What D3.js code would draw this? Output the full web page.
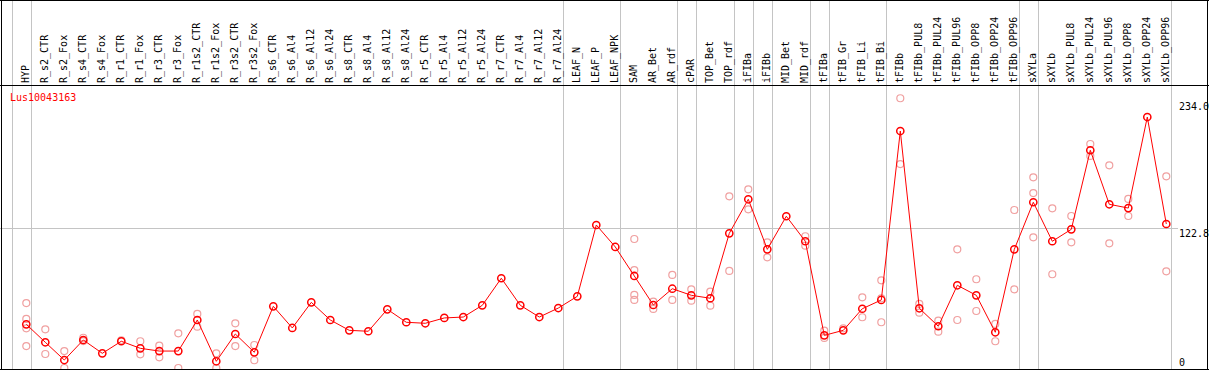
<!DOCTYPE html>
<html>
<head>
<meta charset="utf-8">
<script src="https://cdn.jsdelivr.net/npm/d3@7"></script>
<style>
  body { margin: 0; background: #fff; }
  svg { display: block; }
  text { font-family: "DejaVu Sans Mono", monospace; font-size: 10px; }
</style>
</head>
<body>
<div id="chart"></div>
<script>
var geneName = "Lus10043163";

var categories = ["HYP", "R_s2_CTR", "R_s2_Fox", "R_s4_CTR", "R_s4_Fox", "R_r1_CTR", "R_r1_Fox",
  "R_r3_CTR", "R_r3_Fox", "R_r1s2_CTR", "R_r1s2_Fox", "R_r3s2_CTR", "R_r3s2_Fox",
  "R_s6_CTR", "R_s6_Al4", "R_s6_Al12", "R_s6_Al24", "R_s8_CTR", "R_s8_Al4", "R_s8_Al12", "R_s8_Al24",
  "R_r5_CTR", "R_r5_Al4", "R_r5_Al12", "R_r5_Al24", "R_r7_CTR", "R_r7_Al4", "R_r7_Al12", "R_r7_Al24",
  "LEAF_N", "LEAF_P", "LEAF_NPK", "SAM", "AR_Bet", "AR_rdf", "cPAR", "TOP_Bet", "TOP_rdf",
  "iFIBa", "iFIBb", "MID_Bet", "MID_rdf", "tFIBa", "tFIB_Gr", "tFIB_Li", "tFIB_Bi",
  "tFIBb", "tFIBb_PUL8", "tFIBb_PUL24", "tFIBb_PUL96", "tFIBb_OPP8", "tFIBb_OPP24", "tFIBb_OPP96",
  "sXYLa", "sXYLb", "sXYLb_PUL8", "sXYLb_PUL24", "sXYLb_PUL96", "sXYLb_OPP8", "sXYLb_OPP24", "sXYLb_OPP96"];

// mean expression per sample
var means = [38.4, 22.6, 7.0, 24.6, 12.9, 23.5, 17.3, 14.9, 14.9, 42.2, 5.9, 29.9, 13.8,
  54.2, 35.2, 57.7, 42.2, 33.1, 32.3, 51.6, 40.2, 39.3, 44.0, 44.8, 55.1, 78.9, 55.1, 44.8, 52.7,
  63.0, 125.7, 106.4, 80.9, 55.4, 69.7, 63.9, 61.3, 118.4, 148.3, 104.3, 133.4, 111.4,
  28.7, 33.1, 52.1, 59.8, 208.3, 52.5, 36.7, 72.7, 63.9, 31.4, 104.3,
  145.7, 111.4, 121.9, 191.4, 143.9, 140.6, 220.6, 126.6];

// individual replicates per sample
var replicates = [[57.1, 43.1, 34.9, 19.3], [34.0, 12.3], [14.9, 0], [26.6, 23.7], [], [24.3],
  [23.5, 12.0], [19.6, 9.4], [30.5, 0], [47.5, 36.3], [12.9, 0], [39.3, 19.3], [20.2, 6.8],
  [], [], [], [], [], [], [], [], [], [], [], [], [], [], [], [],
  [], [], [], [113.4, 86.1, 64.2, 59.8], [58.3, 51.9], [81.8, 59.8], [69.2, 59.2], [67.1, 54.8],
  [150.9, 85.3], [157.1, 139.5], [110.5, 97.3], [], [115.8, 107.5],
  [32.8, 26.4], [34.9], [62.1, 44.6], [77.1, 61.3, 40.2], [237.1, 179.3],
  [56.3, 48.6], [41.6, 31.9], [104.3, 42.2], [78.0, 50.1], [38.7, 23.5], [138.9, 69.2],
  [167.6, 153.8, 114.9], [140.4, 82.4], [133.6, 110.5], [196.9, 186.4], [178.2, 109.6],
  [148.6, 133.6], [], [168.5, 85.0]];

// a grey separator follows each of these samples
var groupEnds = ["HYP", "R_r7_Al24", "LEAF_NPK", "AR_rdf", "cPAR", "TOP_rdf", "iFIBa", "iFIBb",
  "MID_rdf", "tFIBa", "tFIB_Bi", "tFIBb_OPP96", "sXYLa", "sXYLb_OPP96"];

var yTicks = [0, 122.8, 234.0];
var yTickLabels = ["0", "122.8", "234.0"];

var width = 1209, height = 370,
  headerBottom = 85.5, plotBottom = 369, labelX = 1179;

var x = d3.scalePoint().domain(categories).range([26.3, 1166.3]);
var step = x.step();
var y = d3.scaleLinear().domain([0, 234]).range([368, 101.8]);

var svg = d3.select("#chart").append("svg")
  .attr("width", width).attr("height", height);

svg.append("defs").append("clipPath").attr("id", "clip")
  .append("rect").attr("x", 2).attr("y", headerBottom)
  .attr("width", 1205).attr("height", plotBottom - headerBottom);

var grid = svg.append("g").attr("shape-rendering", "crispEdges");

// group separators
var sepX = [x(categories[0]) - step + 4.4].concat(groupEnds.map(function(c) { return x(c) + 4.4; }));
grid.selectAll("line.sep").data(sepX).enter().append("line")
  .attr("class", "sep")
  .attr("x1", function(d) { return Math.round(d) + 0.5; })
  .attr("x2", function(d) { return Math.round(d) + 0.5; })
  .attr("y1", 0).attr("y2", plotBottom)
  .attr("stroke", "#c4c4c4").attr("stroke-width", 1);

// middle gridline
grid.append("line")
  .attr("x1", 0).attr("x2", labelX - 1)
  .attr("y1", Math.round(y(yTicks[1])) + 0.5).attr("y2", Math.round(y(yTicks[1])) + 0.5)
  .attr("stroke", "#c4c4c4");

// frame
grid.append("line").attr("x1", 0).attr("x2", width).attr("y1", 0.5).attr("y2", 0.5).attr("stroke", "#000");
grid.append("line").attr("x1", 0).attr("x2", width).attr("y1", headerBottom).attr("y2", headerBottom).attr("stroke", "#000");
grid.append("line").attr("x1", 0).attr("x2", width).attr("y1", plotBottom + 0.5).attr("y2", plotBottom + 0.5).attr("stroke", "#000");
grid.append("line").attr("x1", 1.5).attr("x2", 1.5).attr("y1", 0).attr("y2", height).attr("stroke", "#000");
grid.append("line").attr("x1", 1207.5).attr("x2", 1207.5).attr("y1", 0).attr("y2", height).attr("stroke", "#000");

// sample labels
svg.append("g").selectAll("text").data(categories).enter().append("text")
  .attr("transform", function(d) { return "translate(" + (x(d) + 3) + ",83) rotate(-90)"; })
  .attr("text-anchor", "start")
  .text(function(d) { return d; });

// gene name
svg.append("text").attr("x", 10).attr("y", 101).attr("fill", "#ff0000").text(geneName);

// y labels on the right
svg.append("g").selectAll("text").data(yTicks).enter().append("text")
  .attr("x", labelX)
  .attr("y", function(d) { return Math.min(y(d) + 8.5, 366); })
  .attr("fill", "#000")
  .text(function(d, i) { return yTickLabels[i]; });

var plot = svg.append("g").attr("clip-path", "url(#clip)");

var reps = [];
categories.forEach(function(c, i) {
  replicates[i].forEach(function(v) { reps.push({ cat: c, value: v }); });
});

plot.selectAll("circle.rep").data(reps).enter().append("circle")
  .attr("class", "rep")
  .attr("cx", function(d) { return x(d.cat); })
  .attr("cy", function(d) { return y(d.value); })
  .attr("r", 3.5)
  .attr("fill", "none").attr("stroke", "#f0a0a0").attr("stroke-width", 1.2);

var line = d3.line()
  .x(function(d, i) { return x(categories[i]); })
  .y(function(d) { return y(d); });

plot.append("path").datum(means)
  .attr("d", line)
  .attr("fill", "none").attr("stroke", "#ff0000").attr("stroke-width", 1);

plot.selectAll("circle.mean").data(means).enter().append("circle")
  .attr("class", "mean")
  .attr("cx", function(d, i) { return x(categories[i]); })
  .attr("cy", function(d) { return y(d); })
  .attr("r", 3.6)
  .attr("fill", "none").attr("stroke", "#ff0000").attr("stroke-width", 1.5);
</script>
</body>
</html>
